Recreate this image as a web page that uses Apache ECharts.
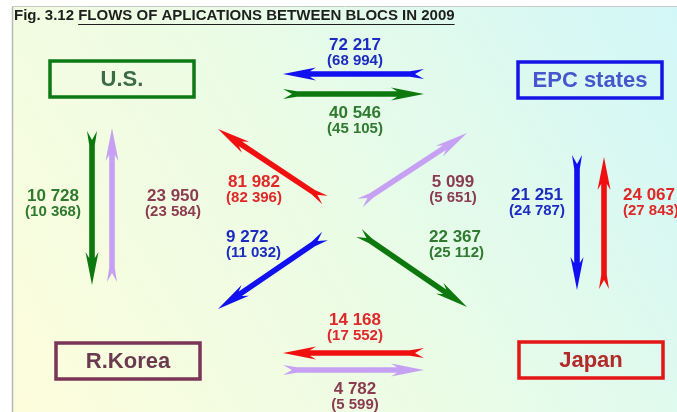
<!DOCTYPE html>
<html><head><meta charset="utf-8">
<script src="https://cdn.jsdelivr.net/npm/echarts@6/dist/echarts.min.js"></script>
<style>html,body{margin:0;padding:0;background:#fff}#c{width:677px;height:412px}</style>
</head><body><div id="c"></div>
<script>
// ---------- DATA ----------
const titleLead = 'Fig. 3.12 ';
const titleMain = 'FLOWS OF APLICATIONS BETWEEN BLOCS IN 2009';
const blocs = ['U.S.', 'EPC states', 'R.Korea', 'Japan'];
const flowFrom = ['EPC states','U.S.','U.S.','R.Korea','Japan','R.Korea','EPC states','U.S.','EPC states','Japan','Japan','R.Korea'];
const flowTo   = ['U.S.','EPC states','R.Korea','U.S.','U.S.','EPC states','R.Korea','Japan','Japan','EPC states','R.Korea','Japan'];
const flows2009 = [72217, 40546, 10728, 23950, 81982, 5099, 9272, 22367, 21251, 24067, 14168, 4782];
const flowsPrev = [68994, 45105, 10368, 23584, 82396, 5651, 11032, 25112, 24787, 27843, 17552, 5599];

// ---------- STYLE / LAYOUT ----------
const FONT = '"Liberation Sans", Arial, sans-serif';
const boxStroke = ['#0c7a14', '#1414e6', '#7a3557', '#e41616'];
const boxText   = ['#3b6c44', '#4656cc', '#6a3a50', '#b22a2a'];
const arrowColor = ['#0d780d', '#1010f0', '#c6a0f2', '#f01010'];
const labelColor = ['#2f7a2f', '#1c2cc0', '#8c3c50', '#e02828'];
// layout (pixel-like units of the hidden axes)
const blocPos = [[122, 79], [590, 80], [128, 361], [591, 360]];
const boxSize = [144, 36];
const arrowPath = [
  [424, 74, 283, 74], [283, 94, 424, 94],
  [92, 131, 92, 285], [112, 282, 112, 128],
  [325, 200, 218, 129], [360, 203, 467, 133],
  [325, 236, 218, 309], [359, 233, 467, 307],
  [577, 155, 577, 290], [604, 289, 604, 157],
  [424, 353, 283, 353], [283, 370, 424, 370]
];
const labelPos = [
  [355, 45, 'center'], [355, 113, 'center'],
  [53, 196, 'center'], [173, 196, 'center'],
  [254, 182, 'center'], [453, 182, 'center'],
  [226, 237, 'left'], [429, 237, 'left'],
  [537, 195, 'center'], [623, 195, 'left'],
  [355, 320, 'center'], [355, 389, 'center']
];

const fmt = n => String(n).replace(/\B(?=(\d{3})+(?!\d))/g, ' ');
const bi = name => blocs.indexOf(name);

function arrowPts(p1, p2) {
  const dx = p2[0] - p1[0], dy = p2[1] - p1[1];
  const L = Math.hypot(dx, dy), ux = dx / L, uy = dy / L, nx = -uy, ny = ux;
  const P = (s, t) => [p1[0] + ux * s + nx * t, p1[1] + uy * s + ny * t];
  const hl = 33, hw = 6.5, sw = 2.8, tw = 5, tf = 14, nd = 9;
  return [P(L, 0), P(L - hl, hw), P(L - hl + 6, sw), P(tf, sw), P(0, tw), P(nd, 0),
          P(0, -tw), P(tf, -sw), P(L - hl + 6, -sw), P(L - hl, -hw)];
}

// title underline measure
const cv = document.createElement('canvas').getContext('2d');
const TITLE_SIZE = 15;
cv.font = 'bold ' + TITLE_SIZE + 'px ' + FONT;
const leadW = cv.measureText(titleLead).width;
const mainW = cv.measureText(titleMain).width;
const titleX = 14, titleY = 8;

const chart = echarts.init(document.getElementById('c'), null, {renderer: 'canvas'});
chart.setOption({
  animation: false,
  grid: {left: 0, right: 0, top: 0, bottom: 0},
  xAxis: {type: 'value', min: 0, max: 677, show: false},
  yAxis: {type: 'value', min: 0, max: 412, inverse: true, show: false},
  title: {text: titleLead + titleMain, left: titleX, top: titleY, padding: 0,
    textStyle: {fontFamily: FONT, fontWeight: 'bold', fontSize: TITLE_SIZE, color: '#1e1e1e'}},
  graphic: [
    {type: 'rect', z: 0, shape: {x: 13, y: 7, width: 664, height: 405},
     style: {fill: new echarts.graphic.LinearGradient(1, 0, 0, 1, [
       {offset: 0, color: '#d2f7f8'}, {offset: 0.5, color: '#eafce6'}, {offset: 1, color: '#fdfddc'}])}},
    {type: 'line', z: 1, shape: {x1: 12.5, y1: 7, x2: 12.5, y2: 412}, style: {stroke: '#b8b8b8', lineWidth: 1.5}},
    {type: 'line', z: 1, shape: {x1: 12, y1: 6.5, x2: 677, y2: 6.5}, style: {stroke: '#c8c8c8', lineWidth: 1}},
    {type: 'line', z: 5, shape: {x1: titleX + leadW, y1: titleY + 16.5, x2: titleX + leadW + mainW, y2: titleY + 16.5},
     style: {stroke: '#1e1e1e', lineWidth: 1.2}}
  ],
  series: [
    {
      type: 'custom', name: 'blocs', coordinateSystem: 'cartesian2d',
      data: blocs.map((b, i) => [blocPos[i][0], blocPos[i][1], i]),
      renderItem: (params, api) => {
        const i = api.value(2);
        const c = api.coord([api.value(0), api.value(1)]);
        return {type: 'group', children: [
          {type: 'rect', shape: {x: c[0] - boxSize[0] / 2, y: c[1] - boxSize[1] / 2, width: boxSize[0], height: boxSize[1]},
           style: {fill: 'none', stroke: boxStroke[i], lineWidth: 3.5}},
          {type: 'text', style: {text: blocs[i], x: c[0], y: c[1] + 1, align: 'center', verticalAlign: 'middle',
           font: 'bold 22px ' + FONT, fill: boxText[i]}}
        ]};
      }
    },
    {
      type: 'custom', name: 'flows', coordinateSystem: 'cartesian2d',
      data: flows2009.map((v, i) => [arrowPath[i][0], arrowPath[i][1], arrowPath[i][2], arrowPath[i][3], i]),
      renderItem: (params, api) => {
        const i = api.value(4);
        const p1 = api.coord([api.value(0), api.value(1)]);
        const p2 = api.coord([api.value(2), api.value(3)]);
        return {type: 'polygon', shape: {points: arrowPts(p1, p2)},
          style: {fill: arrowColor[bi(flowFrom[i])]}};
      }
    },
    {
      type: 'custom', name: 'labels', coordinateSystem: 'cartesian2d',
      data: flows2009.map((v, i) => [labelPos[i][0], labelPos[i][1], i]),
      renderItem: (params, api) => {
        const i = api.value(2);
        const c = api.coord([api.value(0), api.value(1)]);
        const col = labelColor[bi(flowFrom[i])];
        const al = labelPos[i][2];
        return {type: 'group', children: [
          {type: 'text', style: {text: fmt(flows2009[i]), x: c[0], y: c[1], align: al, verticalAlign: 'middle',
            font: 'bold 17px ' + FONT, fill: col}},
          {type: 'text', style: {text: '(' + fmt(flowsPrev[i]) + ')', x: c[0], y: c[1] + 16, align: al, verticalAlign: 'middle',
            font: 'bold 15px ' + FONT, fill: col}}
        ]};
      }
    }
  ]
});
</script></body></html>
